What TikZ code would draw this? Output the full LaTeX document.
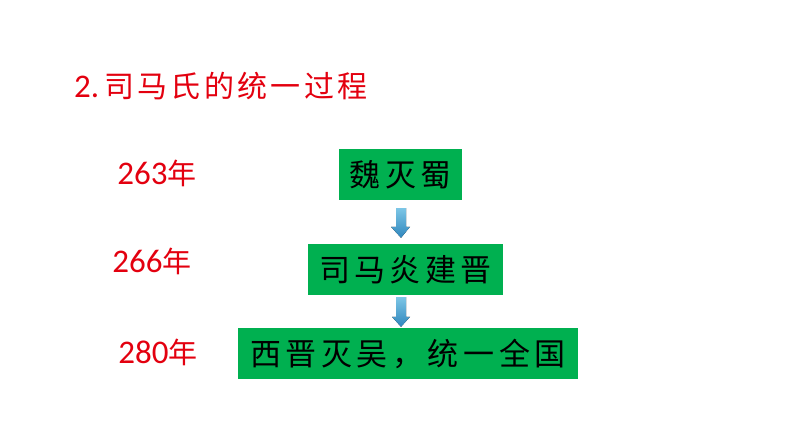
\documentclass[tikz,border=0pt]{standalone}
\usepackage{fontspec}
\setmainfont{Carlito}
\newfontfamily\cjk{Noto Sans CJK SC}
\usetikzlibrary{calc}
\definecolor{titlered}{HTML}{E3000F}
\definecolor{boxgreen}{HTML}{00B050}
\definecolor{arrowtop}{HTML}{7CC6E6}
\definecolor{arrowbot}{HTML}{2F86BD}
\newcommand{\nian}{{\cjk\fontsize{29}{32}\selectfont 年}}
\newcommand{\tg}{\hspace{3.3pt}}
\newcommand{\bg}{\hspace{4.5pt}}
\tikzset{
  stagebox/.style={fill=boxgreen, draw=none, minimum height=51pt, inner sep=0pt,
    font=\cjk\fontsize{31}{34}\selectfont, text=black},
  yearlabel/.style={text=titlered, font=\fontsize{33}{36}\selectfont, inner sep=0pt},
  blockarrow/.style={top color=arrowtop, bottom color=arrowbot, draw=none}
}
\begin{document}
\begin{tikzpicture}[x=1pt,y=-1pt]
\useasboundingbox (0,0) rectangle (794,447);
\node[anchor=west, text=titlered, inner sep=0pt, font=\fontsize{33}{35}\selectfont] (title) at (74,86)
  {2.\hspace{5pt}{\cjk\fontsize{30}{34}\selectfont 司\tg 马\tg 氏\tg 的\tg 统\tg 一\tg 过\tg 程}};
\node[stagebox, minimum width=123pt] (b1) at (400.5,174.5) {魏\bg 灭\bg 蜀};
\node[stagebox, minimum width=195pt] (b2) at (405.5,269.5) {司\bg 马\bg 炎\bg 建\bg 晋};
\node[stagebox, minimum width=340pt] (b3) at (408,353.5) {西\bg 晋\bg 灭\bg 吴\bg ，\bg 统\bg 一\bg 全\bg 国};
\node[yearlabel] (y1) at (157,173) {263\nian};
\node[yearlabel] (y2) at (152,261) {266\nian};
\node[yearlabel] (y3) at (158,352) {280\nian};
% block arrows
\fill[blockarrow] ($(b1.south)+(-4.5,8)$) -- ($(b1.south)+(5.5,8)$) -- ($(b2.north)+(0.5,-17)$) -- ($(b2.north)+(4.5,-17)$)
  -- ($(b2.north)+(-4.5,-6)$) -- ($(b2.north)+(-14.5,-17)$) -- ($(b2.north)+(-9.5,-17)$) -- cycle;
\fill[blockarrow] ($(b2.south)+(-9.5,2)$) -- ($(b2.south)+(0.5,2)$) -- ($(b3.north)+(-2,-11)$) -- ($(b3.north)+(2,-11)$)
  -- ($(b3.north)+(-7,-1)$) -- ($(b3.north)+(-16,-11)$) -- ($(b3.north)+(-12,-11)$) -- cycle;
\end{tikzpicture}
\end{document}
